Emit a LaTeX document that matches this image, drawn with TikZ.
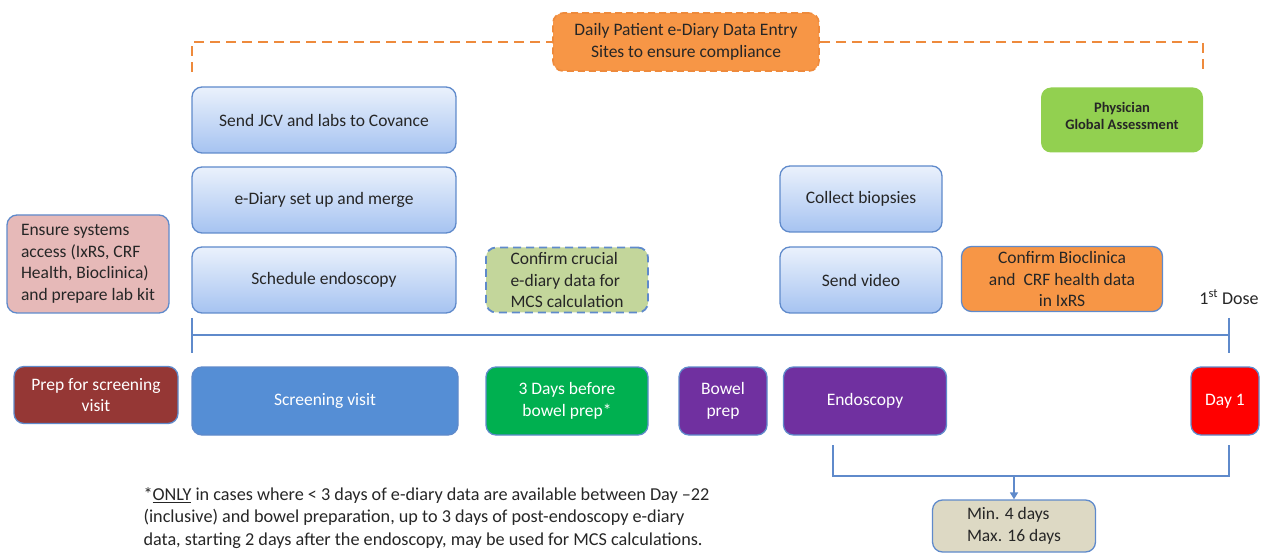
\documentclass[tikz,border=0pt]{standalone}
\usepackage{fontspec}
\setmainfont{Carlito}
\usepackage{tikz}
\usepackage{xcolor}
\usetikzlibrary{shapes, positioning, arrows.meta}

\definecolor{boxline}{HTML}{5F8ACB}
\definecolor{skytop}{HTML}{EAF1FC}
\definecolor{skybot}{HTML}{A6C3F1}
\definecolor{tangerine}{HTML}{F79646}
\definecolor{rust}{HTML}{EE8A3C}
\definecolor{rose}{HTML}{E6B9B8}
\definecolor{sage}{HTML}{C3D69B}
\definecolor{lime}{HTML}{92D050}
\definecolor{brick}{HTML}{953735}
\definecolor{steel}{HTML}{558ED5}
\definecolor{grass}{HTML}{00B050}
\definecolor{plum}{HTML}{7030A0}
\definecolor{scarlet}{HTML}{FF0000}
\definecolor{sand}{HTML}{DDD9C4}

\begin{document}
\begin{tikzpicture}[x=1pt, y=-1pt,
    every node/.style={font=\fontsize{17.5}{21.5}\selectfont, text=black!85},
    task/.style={draw=boxline, line width=1.3pt, rounded corners=10pt, top color=skytop, bottom color=skybot, minimum width=162pt, minimum height=66pt, align=center},
    phase/.style={draw=boxline, line width=1.3pt, rounded corners=10pt, minimum height=68pt, align=center, text=white},
    axis/.style={draw=boxline, line width=1.6pt}
  ]
    \useasboundingbox (0,0) rectangle (1261,553);

    % daily entry banner
    \node[fill=tangerine, draw=rust, dashed, dash pattern=on 7pt off 4pt, line width=1.6pt, rounded corners=10pt, minimum width=266pt, minimum height=58pt, align=center] (daily) at (686,42) {Daily Patient e-Diary Data Entry\\Sites to ensure compliance};
    \draw[rust, line width=2pt, dash pattern=on 10pt off 6pt] (192,72) |- (daily.west);
    \draw[rust, line width=2pt, dash pattern=on 10pt off 6pt] (daily.east) -| (1203,72);

    % tasks above the line
    \node[task, minimum width=264pt] (jcv) at (324,120) {Send JCV and labs to Covance};
    \node[task, minimum width=264pt] (diary) at (324,200) {e-Diary set up and merge};
    \node[task, minimum width=264pt] (sched) at (324,280) {Schedule endoscopy};
    \node[task] (biopsy) at (861,199) {Collect biopsies};
    \node[task] (video) at (861,280) {Send video};

    \node[fill=rose, draw=boxline, line width=1.3pt, rounded corners=10pt, minimum width=162pt, minimum height=98pt, align=left] (access) at (88,264) {Ensure systems\\access (IxRS, CRF\\Health, Bioclinica)\\and prepare lab kit};
    \node[fill=sage, draw=boxline, line width=1.8pt, dash pattern=on 8pt off 5pt, rounded corners=10pt, minimum width=162pt, minimum height=65pt, align=left] (crucial) at (567,280) {Confirm crucial\\e-diary data for\\MCS calculation};
    \node[fill=tangerine, draw=boxline, line width=1.3pt, rounded corners=10pt, minimum width=201pt, minimum height=65pt, align=center] (confirm) at (1062,279) {Confirm Bioclinica\\and~ CRF health data\\in IxRS};
    \node[fill=lime, rounded corners=10pt, minimum width=162pt, minimum height=65pt, align=center, font=\fontsize{14.5}{17}\selectfont\bfseries] (pga) at (1122,120) {Physician\\Global Assessment\rule[-8pt]{0pt}{0pt}};
    \node[font=\fontsize{18}{21}\selectfont] (dose) at (1229,297) {1\textsuperscript{st} Dose};

    % time line
    \coordinate (tl) at (192,318);
    \coordinate (bl) at (192,353);
    \coordinate (tr) at (1229,318);
    \coordinate (br) at (1229,353);
    \coordinate (ml) at (192,335);
    \coordinate (mr) at (1229,335);
    \draw[axis] (tl) -- (bl);
    \draw[axis] (tr) -- (br);
    \draw[axis] (ml) -- (mr);

    % visits
    \node[phase, fill=brick, minimum width=164pt, minimum height=57pt] (prep) at (96,395) {Prep for screening\\visit};
    \node[phase, fill=steel, minimum width=266pt] (screen) at (325,401) {Screening visit};
    \node[phase, fill=grass, minimum width=162pt] (before) at (567,401) {3 Days before\\bowel prep*};
    \node[phase, fill=plum, minimum width=88pt] (bowel) at (723,401) {Bowel\\prep};
    \node[phase, fill=plum, minimum width=163pt] (endo) at (865,401) {Endoscopy};
    \node[phase, fill=scarlet, minimum width=68pt] (day1) at (1225,401) {Day 1};

    % window between endoscopy and day 1
    \node[fill=sand, draw=boxline, line width=1.3pt, rounded corners=10pt, minimum width=163pt, minimum height=52pt, align=left] (span) at (1014,526) {Min. 4 days\\Max. 16 days};
    \coordinate (e0) at (833,445);
    \coordinate (d0) at (1229,445);
    \coordinate (mid) at (1014,476);
    \draw[axis] (e0) |- (mid) -| (d0);
    \draw[axis, -{Triangle[length=7pt, width=8pt]}] (mid) -- (span.north);

    \node[anchor=north west, align=left, font=\fontsize{18.2}{22.5}\selectfont] (foot) at (140,484) {*\underline{ONLY} in cases where < 3 days of e-diary data are available between Day –22\\(inclusive) and bowel preparation, up to 3 days of post-endoscopy e-diary\\data, starting 2 days after the endoscopy, may be used for MCS calculations.};
\end{tikzpicture}
\end{document}
